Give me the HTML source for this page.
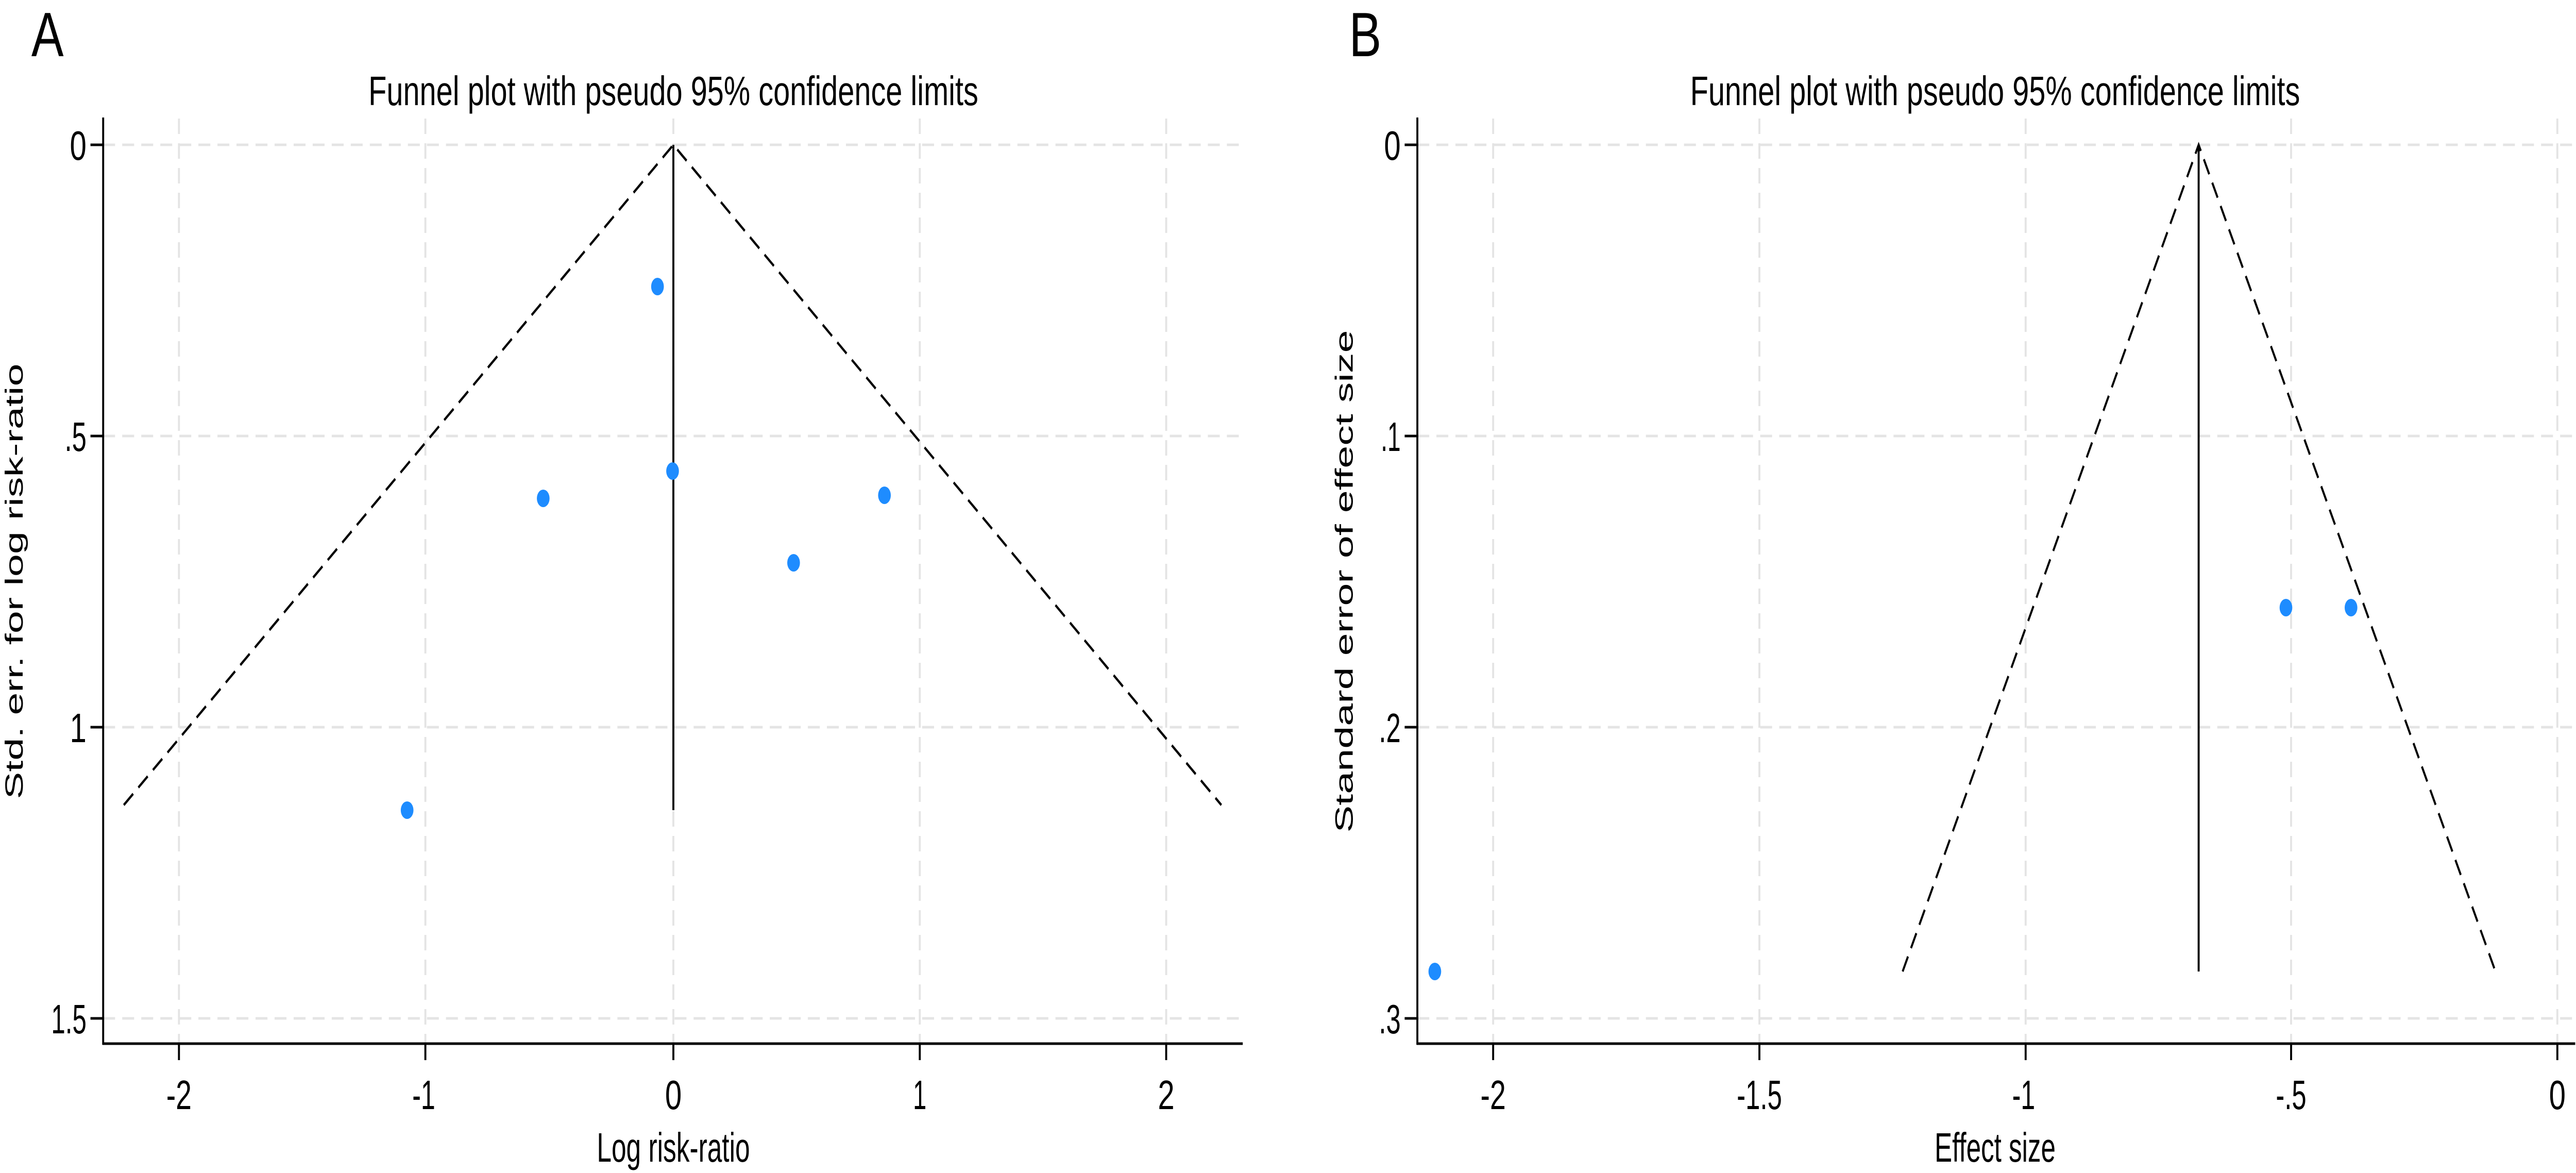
<!DOCTYPE html>
<html><head><meta charset="utf-8"><style>html,body{margin:0;padding:0;background:#fff;overflow:hidden;width:100%;height:100%}svg{display:block;width:100vw;height:100vh}</style></head>
<body>
<svg viewBox="0 0 6492 2276" preserveAspectRatio="none" xmlns="http://www.w3.org/2000/svg" font-family="'Liberation Sans Narrow','Liberation Sans',sans-serif">
<rect width="6492" height="2276" fill="#fff"/>
<!-- Panel A -->
<g>
<text x="79" y="109" font-size="122" font-family="'Liberation Sans',sans-serif">A</text>
<text x="1697" y="204" font-size="80" text-anchor="middle" textLength="1537" lengthAdjust="spacingAndGlyphs">Funnel plot with pseudo 95% confidence limits</text>
<g stroke="#e4e4e4" stroke-width="5" stroke-dasharray="30,18">
<line x1="451" y1="230" x2="451" y2="2025"/><line x1="1072" y1="230" x2="1072" y2="2025"/><line x1="1697" y1="230" x2="1697" y2="2025"/><line x1="2318" y1="230" x2="2318" y2="2025"/><line x1="2939" y1="230" x2="2939" y2="2025"/>
<line x1="260" y1="281" x2="3132" y2="281"/><line x1="260" y1="846" x2="3132" y2="846"/><line x1="260" y1="1411" x2="3132" y2="1411"/><line x1="260" y1="1976" x2="3132" y2="1976"/>
</g>
<g stroke="#000" stroke-width="5" fill="none">
<line x1="260" y1="228" x2="260" y2="2027"/><line x1="258" y1="2025" x2="3132" y2="2025"/>
<line x1="228" y1="281" x2="260" y2="281"/><line x1="228" y1="846" x2="260" y2="846"/><line x1="228" y1="1411" x2="260" y2="1411"/><line x1="228" y1="1976" x2="260" y2="1976"/>
<line x1="451" y1="2025" x2="451" y2="2057"/><line x1="1072" y1="2025" x2="1072" y2="2057"/><line x1="1697" y1="2025" x2="1697" y2="2057"/><line x1="2318" y1="2025" x2="2318" y2="2057"/><line x1="2939" y1="2025" x2="2939" y2="2057"/>
<line x1="1697" y1="281" x2="1697" y2="1572"/>
<polyline points="312,1562 1697,281 3078,1562" stroke-dasharray="32,18"/>
</g>
<g font-size="80" text-anchor="end">
<text x="218" y="310" textLength="42" lengthAdjust="spacingAndGlyphs">0</text>
<text x="218" y="875" textLength="55" lengthAdjust="spacingAndGlyphs">.5</text>
<text x="218" y="1440" textLength="42" lengthAdjust="spacingAndGlyphs">1</text>
<text x="218" y="2005" textLength="89" lengthAdjust="spacingAndGlyphs">1.5</text>
</g>
<g font-size="80" text-anchor="middle">
<text x="451" y="2152" textLength="64" lengthAdjust="spacingAndGlyphs">-2</text>
<text x="1068" y="2152" textLength="58" lengthAdjust="spacingAndGlyphs">-1</text>
<text x="1697" y="2152" textLength="42" lengthAdjust="spacingAndGlyphs">0</text>
<text x="2318" y="2152" textLength="34" lengthAdjust="spacingAndGlyphs">1</text>
<text x="2939" y="2152" textLength="42" lengthAdjust="spacingAndGlyphs">2</text>
</g>
<text x="1697" y="2254" font-size="80" text-anchor="middle" textLength="386" lengthAdjust="spacingAndGlyphs">Log risk-ratio</text>
<text transform="translate(57,1128) rotate(-90)" font-size="62" text-anchor="middle" font-family="'Liberation Sans',sans-serif" textLength="845" lengthAdjust="spacingAndGlyphs">Std. err. for log risk-ratio</text>
<g fill="#1e8cff">
<ellipse cx="1657" cy="556" rx="16" ry="17"/><ellipse cx="1369" cy="967" rx="16" ry="17"/><ellipse cx="1695" cy="914" rx="16" ry="17"/><ellipse cx="2229" cy="961" rx="16" ry="17"/><ellipse cx="2000" cy="1092" rx="16" ry="17"/><ellipse cx="1026" cy="1572" rx="16" ry="17"/>
</g>
</g>
<!-- Panel B -->
<g>
<text x="3400" y="109" font-size="122" font-family="'Liberation Sans',sans-serif">B</text>
<text x="5028" y="204" font-size="80" text-anchor="middle" textLength="1537" lengthAdjust="spacingAndGlyphs">Funnel plot with pseudo 95% confidence limits</text>
<g stroke="#e4e4e4" stroke-width="5" stroke-dasharray="30,18">
<line x1="3763" y1="230" x2="3763" y2="2025"/><line x1="4434" y1="230" x2="4434" y2="2025"/><line x1="5105" y1="230" x2="5105" y2="2025"/><line x1="5774" y1="230" x2="5774" y2="2025"/><line x1="6445" y1="230" x2="6445" y2="2025"/>
<line x1="3572" y1="281" x2="6486" y2="281"/><line x1="3572" y1="846" x2="6486" y2="846"/><line x1="3572" y1="1411" x2="6486" y2="1411"/><line x1="3572" y1="1976" x2="6486" y2="1976"/>
</g>
<g stroke="#000" stroke-width="5" fill="none">
<line x1="3572" y1="228" x2="3572" y2="2027"/><line x1="3570" y1="2025" x2="6490" y2="2025"/>
<line x1="3540" y1="281" x2="3572" y2="281"/><line x1="3540" y1="846" x2="3572" y2="846"/><line x1="3540" y1="1411" x2="3572" y2="1411"/><line x1="3540" y1="1976" x2="3572" y2="1976"/>
<line x1="3763" y1="2025" x2="3763" y2="2057"/><line x1="4434" y1="2025" x2="4434" y2="2057"/><line x1="5105" y1="2025" x2="5105" y2="2057"/><line x1="5774" y1="2025" x2="5774" y2="2057"/><line x1="6445" y1="2025" x2="6445" y2="2057"/>
<line x1="5541" y1="281" x2="5541" y2="1885"/>
<polyline points="4795,1885 5541,281 6289,1885" stroke-dasharray="32,18"/>
</g>
<g font-size="80" text-anchor="end">
<text x="3530" y="310" textLength="42" lengthAdjust="spacingAndGlyphs">0</text>
<text x="3530" y="875" textLength="50" lengthAdjust="spacingAndGlyphs">.1</text>
<text x="3530" y="1440" textLength="55" lengthAdjust="spacingAndGlyphs">.2</text>
<text x="3530" y="2005" textLength="55" lengthAdjust="spacingAndGlyphs">.3</text>
</g>
<g font-size="80" text-anchor="middle">
<text x="3763" y="2152" textLength="64" lengthAdjust="spacingAndGlyphs">-2</text>
<text x="4434" y="2152" textLength="114" lengthAdjust="spacingAndGlyphs">-1.5</text>
<text x="5100" y="2152" textLength="58" lengthAdjust="spacingAndGlyphs">-1</text>
<text x="5774" y="2152" textLength="77" lengthAdjust="spacingAndGlyphs">-.5</text>
<text x="6445" y="2152" textLength="42" lengthAdjust="spacingAndGlyphs">0</text>
</g>
<text x="5028" y="2254" font-size="80" text-anchor="middle" textLength="305" lengthAdjust="spacingAndGlyphs">Effect size</text>
<text transform="translate(3409,1128) rotate(-90)" font-size="62" text-anchor="middle" font-family="'Liberation Sans',sans-serif" textLength="975" lengthAdjust="spacingAndGlyphs">Standard error of effect size</text>
<g fill="#1e8cff">
<ellipse cx="3616" cy="1885" rx="16" ry="17"/><ellipse cx="5761" cy="1179" rx="16" ry="17"/><ellipse cx="5925" cy="1179" rx="16" ry="17"/>
</g>
</g>
</svg>
</body></html>
